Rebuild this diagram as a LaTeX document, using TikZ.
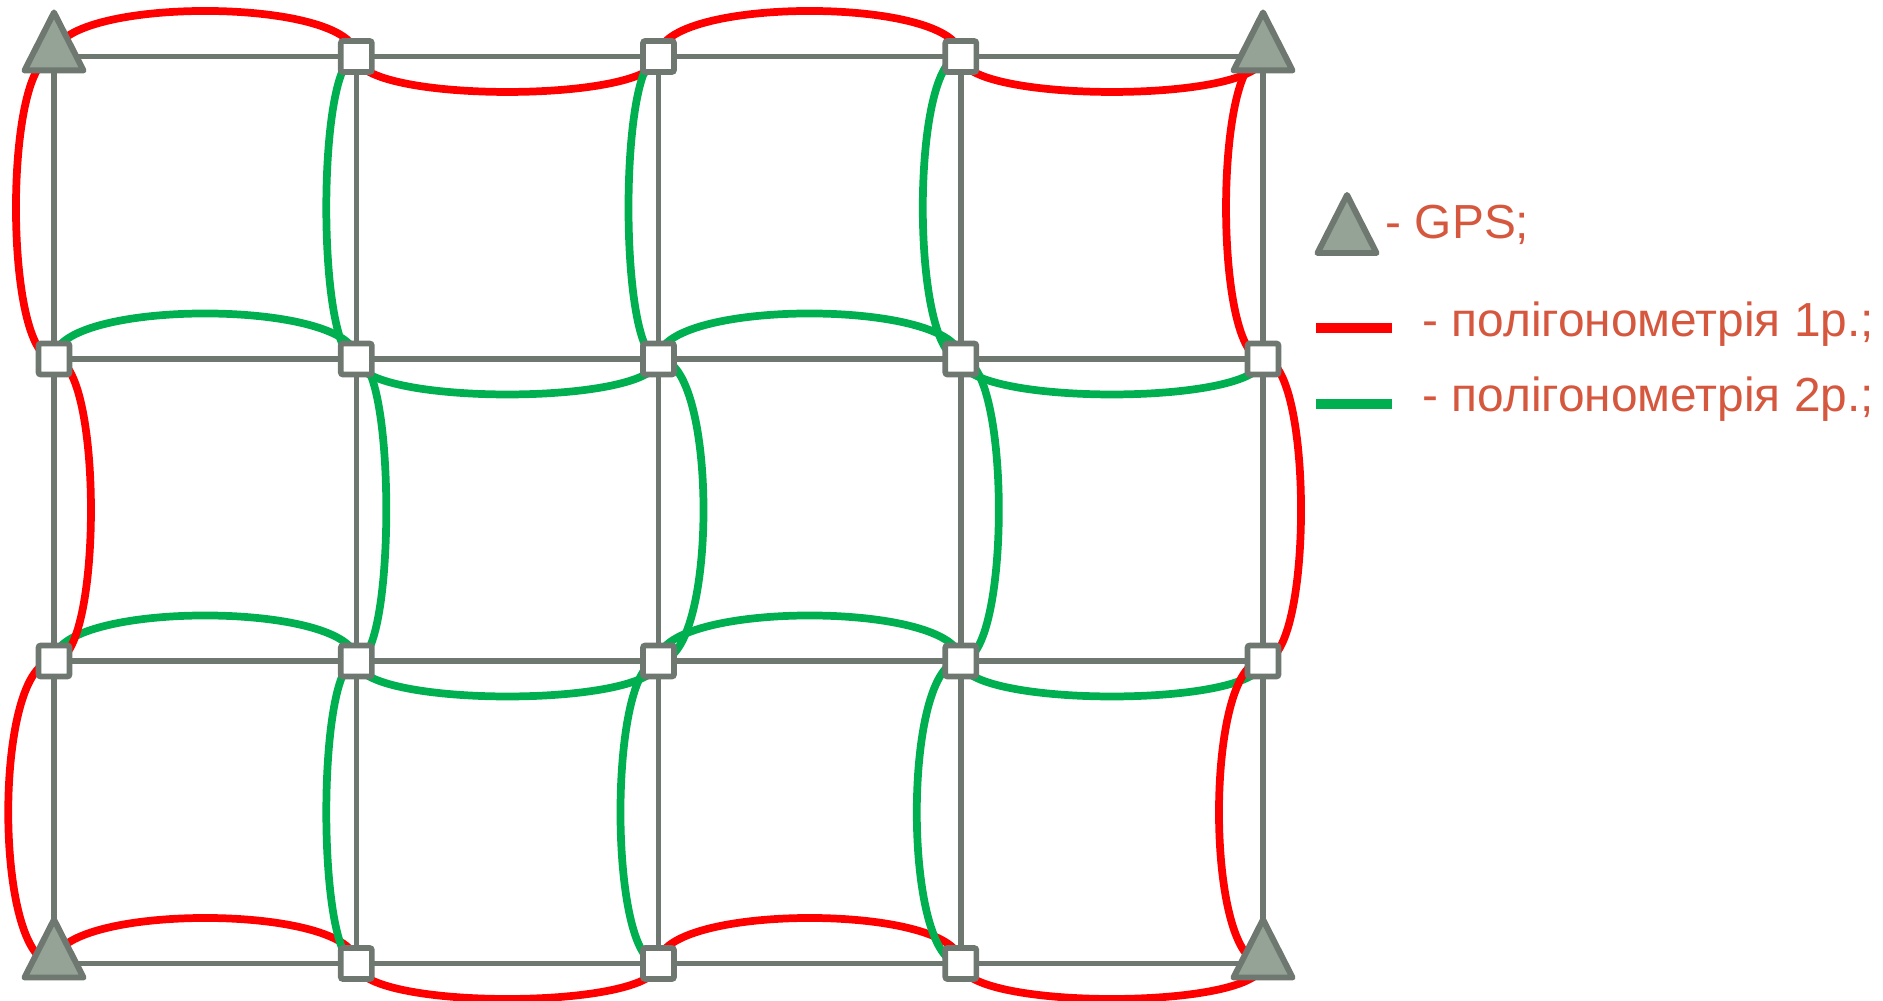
\documentclass[tikz,border=0pt]{standalone}
\usepackage{fontspec}
\setmainfont{Liberation Sans}
\definecolor{gridgray}{HTML}{6E7870}
\definecolor{gpsfill}{HTML}{94A396}
\definecolor{redline}{HTML}{FF0000}
\definecolor{greenline}{HTML}{00B050}
\definecolor{legtext}{HTML}{D5573E}
\begin{document}
\begin{tikzpicture}[x=0.01cm,y=-0.01cm,
  gridline/.style={draw=gridgray, line width=1.55pt},
  pol1/.style={draw=redline, line width=2.2pt},
  pol2/.style={draw=greenline, line width=2.2pt},
  station/.style={rectangle, draw=gridgray, fill=white, line width=1.6pt, minimum size=0.31cm, inner sep=0pt, rounded corners=0.6pt},
  gps/.pic={\draw[draw=gridgray, fill=gpsfill, line width=1.7pt, line join=round] (0,-44) -- (-29.5,14) -- (29.5,14) -- cycle;},
  legtxt/.style={text=legtext, font=\fontsize{13.6pt}{16pt}\selectfont, anchor=base west, inner sep=0pt},
  legline/.style={line width=2.7pt}
]
\useasboundingbox (0,0) rectangle (1883,1001);

% grid points
\foreach \i/\x in {0/54,1/356.3,2/658.5,3/960.8,4/1263}
  \foreach \j/\y in {0/56.5,1/359,2/661,3/963.5}
    \coordinate (P\i\j) at (\x,\y);

% grid lines
\foreach \j in {0,...,3} \draw[gridline] (P0\j) -- (P4\j);
\foreach \i in {0,...,4} \draw[gridline] (P\i0) -- (P\i3);

% horizontal arcs: row 0 (red)
\draw[pol1] (P00) .. controls +(0,-60.7) and +(0,-60.7) .. (P10);
\draw[pol1] (P10) .. controls +(0,47.3) and +(0,47.3) .. (P20);
\draw[pol1] (P20) .. controls +(0,-60.7) and +(0,-60.7) .. (P30);
\draw[pol1] (P30) .. controls +(0,47.3) and +(0,47.3) .. (P40);
% row 1 (green)
\draw[pol2] (P01) .. controls +(0,-60.7) and +(0,-60.7) .. (P11);
\draw[pol2] (P11) .. controls +(0,47.3) and +(0,47.3) .. (P21);
\draw[pol2] (P21) .. controls +(0,-60.7) and +(0,-60.7) .. (P31);
\draw[pol2] (P31) .. controls +(0,47.3) and +(0,47.3) .. (P41);
% row 2 (green)
\draw[pol2] (P02) .. controls +(0,-60.7) and +(0,-60.7) .. (P12);
\draw[pol2] (P12) .. controls +(0,47.3) and +(0,47.3) .. (P22);
\draw[pol2] (P22) .. controls +(0,-60.7) and +(0,-60.7) .. (P32);
\draw[pol2] (P32) .. controls +(0,47.3) and +(0,47.3) .. (P42);
% row 3 (red)
\draw[pol1] (P03) .. controls +(0,-60.7) and +(0,-60.7) .. (P13);
\draw[pol1] (P13) .. controls +(0,47.3) and +(0,47.3) .. (P23);
\draw[pol1] (P23) .. controls +(0,-60.7) and +(0,-60.7) .. (P33);
\draw[pol1] (P33) .. controls +(0,47.3) and +(0,47.3) .. (P43);

% vertical arcs: column 0 (red)
\draw[pol1] (P00) .. controls +(-50.7,0) and +(-50.7,0) .. (P01);
\draw[pol1] (P01) .. controls +(49.3,0) and +(49.3,0) .. (P02);
\draw[pol1] (P02) .. controls +(-61,0) and +(-61,0) .. (P03);
% column 1 (green)
\draw[pol2] (P10) .. controls +(-40,0) and +(-40,0) .. (P11);
\draw[pol2] (P11) .. controls +(40,0) and +(40,0) .. (P12);
\draw[pol2] (P12) .. controls +(-40,0) and +(-40,0) .. (P13);
% column 2 (green)
\draw[pol2] (P20) .. controls +(-40,0) and +(-40,0) .. (P21);
\draw[pol2] (P21) .. controls +(60,0) and +(60,0) .. (P22);
\draw[pol2] (P22) .. controls +(-50.7,0) and +(-50.7,0) .. (P23);
% column 3 (green)
\draw[pol2] (P30) .. controls +(-50.7,0) and +(-50.7,0) .. (P31);
\draw[pol2] (P31) .. controls +(50.7,0) and +(50.7,0) .. (P32);
\draw[pol2] (P32) .. controls +(-58.7,0) and +(-58.7,0) .. (P33);
% column 4 (red)
\draw[pol1] (P40) .. controls +(-49.3,0) and +(-49.3,0) .. (P41);
\draw[pol1] (P41) .. controls +(50.7,0) and +(50.7,0) .. (P42);
\draw[pol1] (P42) .. controls +(-58.7,0) and +(-58.7,0) .. (P43);

% stations (squares)
\foreach \n in {10,20,30,01,11,21,31,41,02,12,22,32,42,13,23,33}
  \node[station] (S\n) at (P\n) {};

% GPS points (triangles)
\pic at (P00) {gps};
\pic at (P40) {gps};
\pic at (P03) {gps};
\pic at (P43) {gps};

% legend
\coordinate (L0) at (1347,239);
\pic at (L0) {gps};
\node[legtxt] (t1) at (1385,239) {- GPS;};
\coordinate (r1) at (1316,328);
\coordinate (r2) at (1392,328);
\draw[legline, redline] (r1) -- (r2);
\node[legtxt] (t2) at (1422,337) {- полігонометрія 1р.;};
\coordinate (g1) at (1316,404);
\coordinate (g2) at (1392,404);
\draw[legline, greenline] (g1) -- (g2);
\node[legtxt] (t3) at (1422,412) {- полігонометрія 2р.;};
\end{tikzpicture}
\end{document}
